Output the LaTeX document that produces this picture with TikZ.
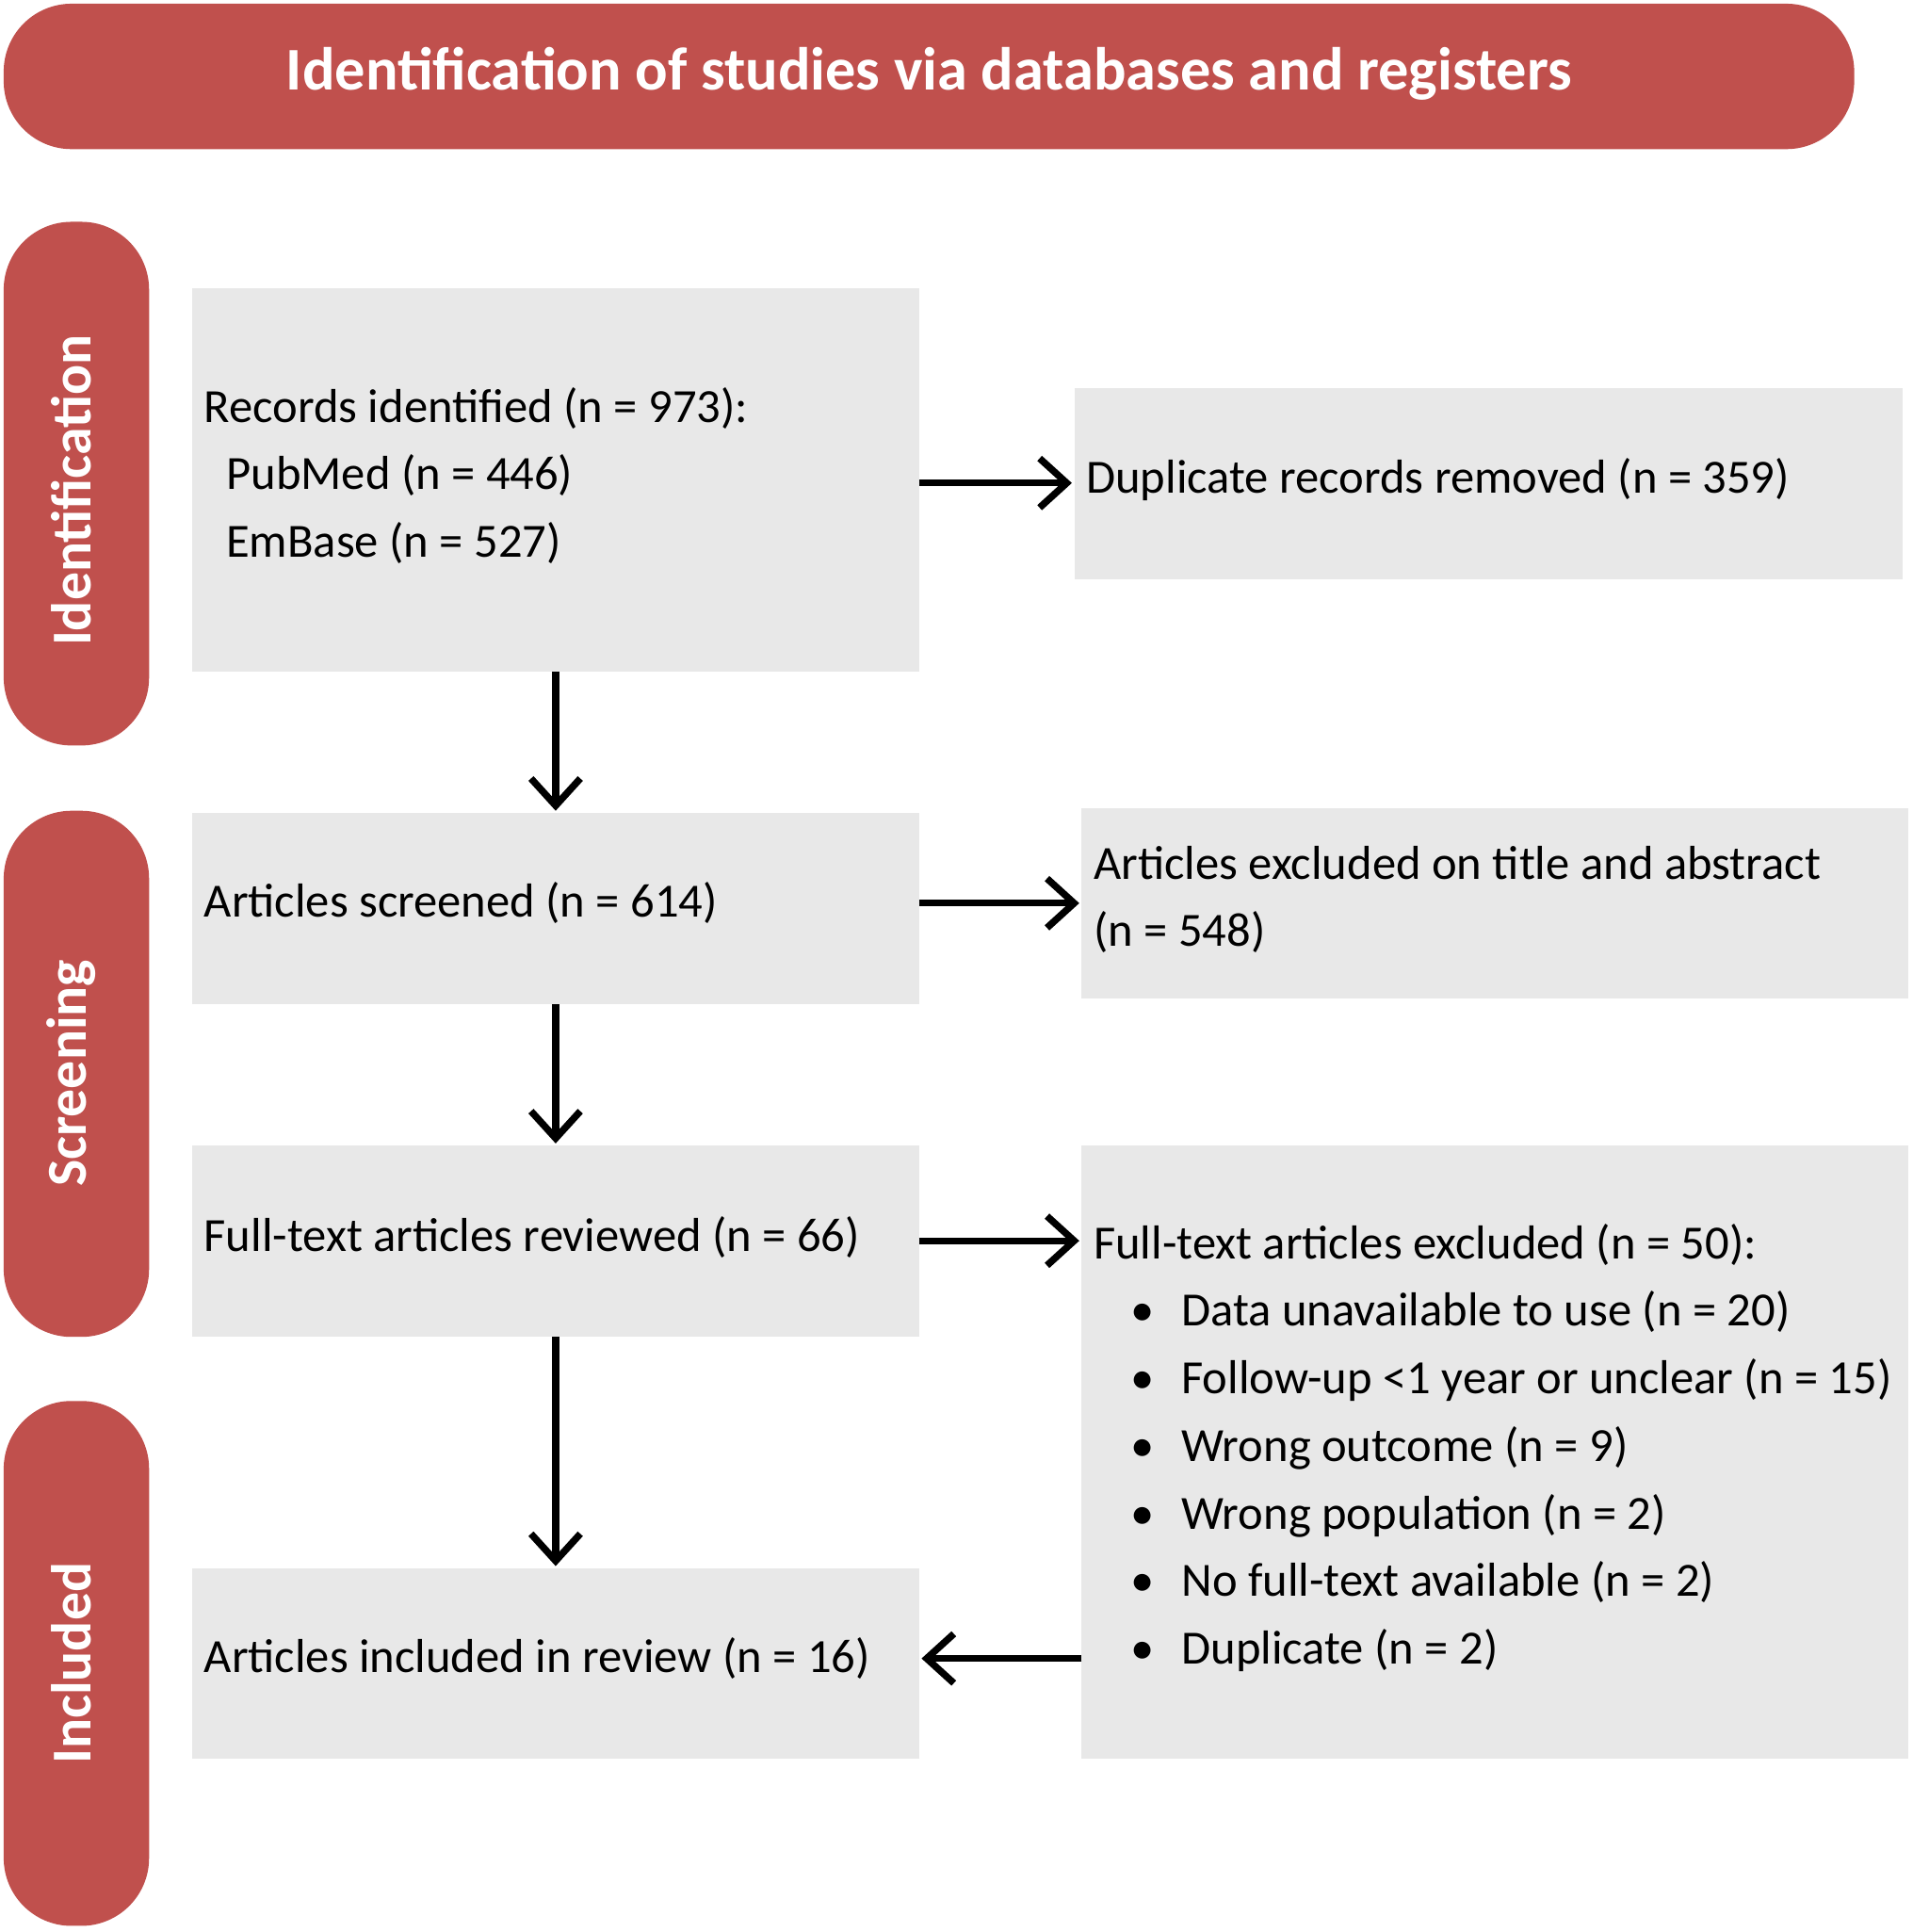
\documentclass[tikz,border=0pt]{standalone}
\usepackage{fontspec}
\setmainfont{Carlito}
\usetikzlibrary{arrows.meta,positioning}
\definecolor{prisred}{RGB}{192,80,77}
\definecolor{prisgray}{RGB}{232,232,232}
\begin{document}
\begin{tikzpicture}[x=0.01cm,y=-0.01cm,
    band/.style = {fill=prisred, rounded corners=0.55cm},
    box/.style = {fill=prisgray},
    txt/.style = {anchor=west, align=left, font=\fontsize{11}{15.6}\selectfont, inner sep=0pt},
    side/.style = {text=white, font=\fontsize{13}{15}\selectfont\bfseries, rotate=90},
    arr/.style = {-{Straight Barb[length=2.2mm,width=4mm]}, line width=1.6pt}
]
\useasboundingbox (0,0) rectangle (1552,1568);

% Banner and phases
\fill[band] (3,3) rectangle (1505,121);
\node[text=white, font=\fontsize{14}{16}\selectfont\bfseries] (title) at (754,60)
    {Identification of studies via databases and registers};
\fill[band] (3,180) rectangle (121,605);
\node[side] (ident) at (58,398) {Identification};
\fill[band] (3,658) rectangle (121,1085);
\node[side] (scr) at (58,871) {Screening};
\fill[band] (3,1137) rectangle (121,1563);
\node[side] (incl) at (58,1350) {Included};

% Boxes
\fill[box] (156,234) rectangle (746,545) coordinate (recBR);
\fill[box] (872,315) rectangle (1544,470);
\fill[box] (156,660) rectangle (746,815);
\fill[box] (878,656) rectangle (1549,810);
\fill[box] (156,930) rectangle (746,1085);
\fill[box] (878,930) rectangle (1549,1427);
\fill[box] (156,1273) rectangle (746,1427);

% Texts
\node[txt] (rec) at (165,386) {Records identified (n = 973):\\
    \hspace{0.18cm}PubMed (n = 446)\\ \hspace{0.18cm}EmBase (n = 527)};
\node[txt] (dup) at (881,389) {Duplicate records removed (n = 359)};
\node[txt] (scrn) at (165,733) {Articles screened (n = 614)};
\node[txt] (exta) at (887,730) {Articles excluded on title and abstract\\(n = 548)};
\node[txt] (full) at (165,1004) {Full-text articles reviewed (n = 66)};
\node[txt] (exft) at (887,1175) {Full-text articles excluded (n = 50):\\
    \hspace{0.3cm}\textbullet\hspace{0.22cm}Data unavailable to use (n = 20)\\
    \hspace{0.3cm}\textbullet\hspace{0.22cm}Follow-up <1 year or unclear (n = 15)\\
    \hspace{0.3cm}\textbullet\hspace{0.22cm}Wrong outcome (n = 9)\\
    \hspace{0.3cm}\textbullet\hspace{0.22cm}Wrong population (n = 2)\\
    \hspace{0.3cm}\textbullet\hspace{0.22cm}No full-text available (n = 2)\\
    \hspace{0.3cm}\textbullet\hspace{0.22cm}Duplicate (n = 2)};
\node[txt] (inc) at (165,1346) {Articles included in review (n = 16)};

% Connectors
\coordinate (a1) at (451,545);  \coordinate (a2) at (451,658);
\coordinate (b1) at (451,815);  \coordinate (b2) at (451,928);
\coordinate (c1) at (451,1085); \coordinate (c2) at (451,1271);
\coordinate (d1) at (746,392);  \coordinate (d2) at (870,392);
\coordinate (e1) at (746,733);  \coordinate (e2) at (876,733);
\coordinate (f1) at (746,1007); \coordinate (f2) at (876,1007);
\coordinate (g1) at (878,1346); \coordinate (g2) at (748,1346);
\foreach \s/\t in {a1/a2,b1/b2,c1/c2,d1/d2,e1/e2,f1/f2,g1/g2}
    \draw[arr] (\s) -- (\t);
\end{tikzpicture}
\end{document}
